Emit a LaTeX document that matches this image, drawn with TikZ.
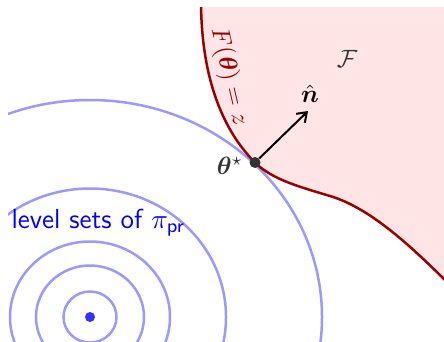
\documentclass[tikz,border=0pt]{standalone}
\usepackage{amsmath,amssymb,bm}
\usetikzlibrary{arrows.meta}
\begin{document}
\begin{tikzpicture}[x=0.4pt,y=-0.4pt,
  levelset/.style={draw=blue!40, line width=1pt},
  boundary/.style={draw=red!60!black, line width=1pt},
  lbl/.style={inner sep=0pt}]
\useasboundingbox (0,0) rectangle (444,341);
\coordinate (c) at (90,317);
\coordinate (ts) at (255,162.5);
\coordinate (top) at (201,0);
\coordinate (mid) at (330,196);
\coordinate (bot) at (452,287);
\begin{scope}
  \clip (8,7) rectangle (444,341);
  \fill[red!10] (top) .. controls (201,90) and (230,137.5) .. (ts)
     .. controls (272,179.5) and (300,187) .. (mid)
     .. controls (370,208) and (410,245) .. (bot) -- (452,0) -- cycle;
  \draw[levelset] (c) ellipse [x radius=10.6pt, y radius=10.2pt];
  \draw[levelset] (c) ellipse [x radius=21.6pt, y radius=20.6pt];
  \draw[levelset] (c) ellipse [x radius=32pt, y radius=30.2pt];
  \draw[levelset] (c) ellipse [x radius=54.4pt, y radius=51.4pt];
  \draw[levelset] (c) ellipse [x radius=92.8pt, y radius=86.8pt];
  \draw[boundary] (top) .. controls (201,90) and (230,137.5) .. (ts)
     .. controls (272,179.5) and (300,187) .. (mid)
     .. controls (370,208) and (410,245) .. (bot);
\end{scope}
\node[circle, fill=blue!80, inner sep=0pt, minimum size=4pt] (mode) at (c) {};
\node[circle, fill=black!80, inner sep=0pt, minimum size=4.4pt] (tsdot) at (ts) {};
\coordinate (ne) at (308,111);
\draw[-{Straight Barb[length=3.5pt,width=5pt]}, line width=0.8pt] (tsdot) -- (ne);
\node[lbl] (nlab) at (310,94) {$\hat{\bm n}$};
\node[lbl, text=black!80] (tlab) at (230,166) {$\bm\theta^\star$};
\node[lbl, text=black!80] (flab) at (347,59) {$\mathcal F$};
\node[lbl, text=red!60!black, rotate=-77] (clab) at (229,77) {$F(\bm\theta) = z$};
\node[lbl, text=blue, anchor=base west, font=\sffamily\fontsize{11}{13}\selectfont] (llab) at (11,228) {level sets of $\pi_{\textsf{pr}}$};
\end{tikzpicture}
\end{document}
